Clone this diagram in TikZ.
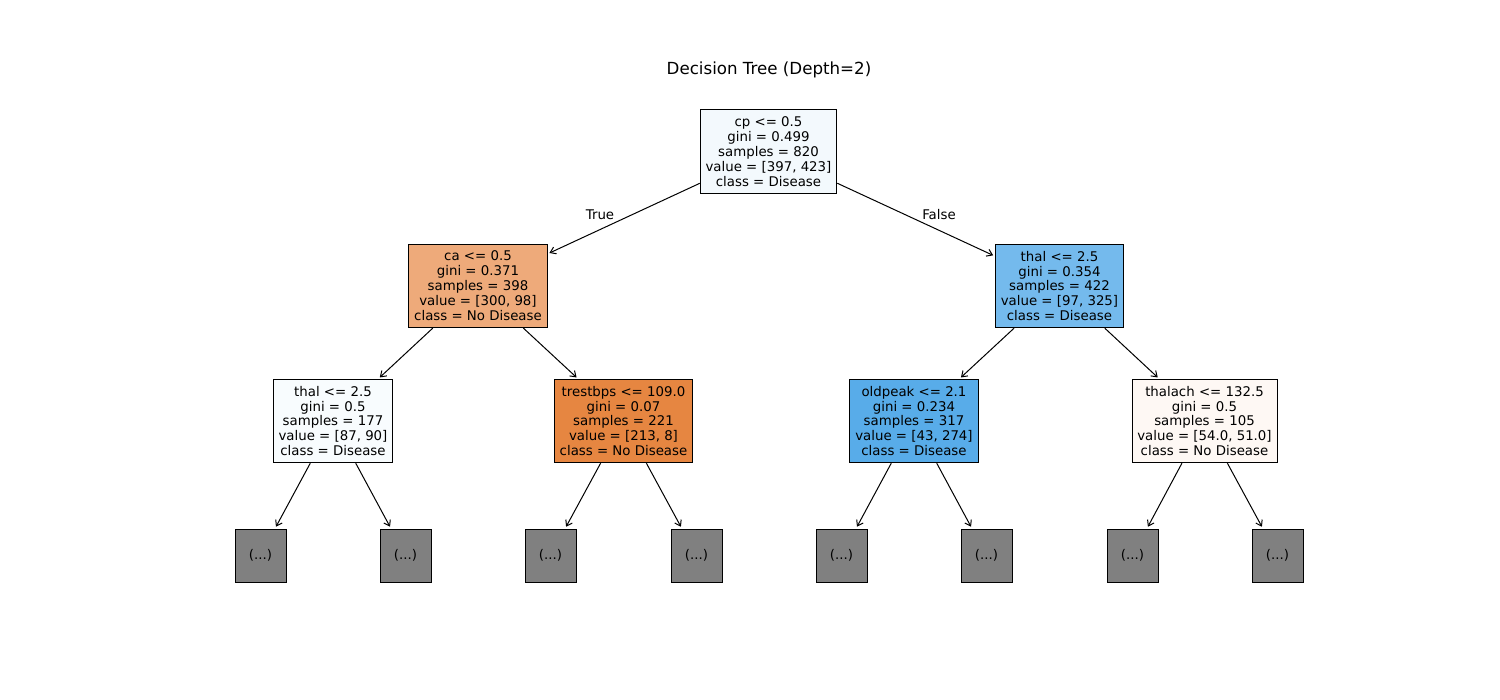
\documentclass[tikz,border=0pt]{standalone}
\usepackage{fontspec}
\setmainfont{DejaVu Sans}
\usetikzlibrary{arrows.meta}
\tikzset{every picture/.style={line width=0.75pt}}

\definecolor{rootcol}{RGB}{243,249,253}
\definecolor{cacol}{RGB}{238,170,122}
\definecolor{thalRcol}{RGB}{116,186,237}
\definecolor{thalLcol}{RGB}{248,252,254}
\definecolor{trestcol}{RGB}{230,134,65}
\definecolor{oldcol}{RGB}{88,172,233}
\definecolor{thalachcol}{RGB}{254,248,244}
\definecolor{leafcol}{RGB}{128,128,128}

\tikzset{
  split/.style={draw, align=center, inner xsep=4pt, inner ysep=5pt, font=\fontsize{10}{11.2}\selectfont},
  leaf/.style={draw, fill=leafcol, minimum width=38.25pt, minimum height=39.75pt, inner sep=0pt, font=\fontsize{10}{11.2}\selectfont},
  edge/.style={-{Straight Barb[length=4pt,width=5.5pt]}, shorten >=1.5pt}
}

\begin{document}
\begin{tikzpicture}[x=0.75pt,y=0.75pt,yscale=-1,xscale=1]
\useasboundingbox (0,0) rectangle (1500,700);

% Title
\node (title) at (769,70) [font=\fontsize{12.5}{15}\selectfont] {Decision Tree (Depth=2)};

% Depth 0
\node (root) at (768.5,151.5) [split, fill=rootcol] {cp <= 0.5\\gini = 0.499\\samples = 820\\value = [397, 423]\\class = Disease};

% Depth 1
\node (ca) at (478,286) [split, fill=cacol] {ca <= 0.5\\gini = 0.371\\samples = 398\\value = [300, 98]\\class = No Disease};
\node (thalR) at (1059.5,286) [split, fill=thalRcol] {thal <= 2.5\\gini = 0.354\\samples = 422\\value = [97, 325]\\class = Disease};

% Depth 2
\node (thalL) at (333,421) [split, fill=thalLcol] {thal <= 2.5\\gini = 0.5\\samples = 177\\value = [87, 90]\\class = Disease};
\node (trest) at (623.5,421) [split, fill=trestcol] {trestbps <= 109.0\\gini = 0.07\\samples = 221\\value = [213, 8]\\class = No Disease};
\node (oldpk) at (914,421) [split, fill=oldcol] {oldpeak <= 2.1\\gini = 0.234\\samples = 317\\value = [43, 274]\\class = Disease};
\node (thalach) at (1204.5,421) [split, fill=thalachcol] {thalach <= 132.5\\gini = 0.5\\samples = 105\\value = [54.0, 51.0]\\class = No Disease};

% Truncated leaves
\foreach \name/\x in {l1/260.5,l2/405.5,l3/550.5,l4/696.5,l5/841.5,l6/986.5,l7/1132.5,l8/1277.5}
  \node (\name) at (\x,555.5) [leaf] {(...)};

% Edges
\draw [edge] (root) -- (ca);
\draw [edge] (root) -- (thalR);
\draw [edge] (ca) -- (thalL);
\draw [edge] (ca) -- (trest);
\draw [edge] (thalR) -- (oldpk);
\draw [edge] (thalR) -- (thalach);
\draw [edge] (thalL) -- (l1);
\draw [edge] (thalL) -- (l2);
\draw [edge] (trest) -- (l3);
\draw [edge] (trest) -- (l4);
\draw [edge] (oldpk) -- (l5);
\draw [edge] (oldpk) -- (l6);
\draw [edge] (thalach) -- (l7);
\draw [edge] (thalach) -- (l8);

% Branch labels
\node (truelbl) at (600,215) [font=\fontsize{10}{12}\selectfont] {True};
\node (falselbl) at (939,215) [font=\fontsize{10}{12}\selectfont] {False};

\end{tikzpicture}
\end{document}
